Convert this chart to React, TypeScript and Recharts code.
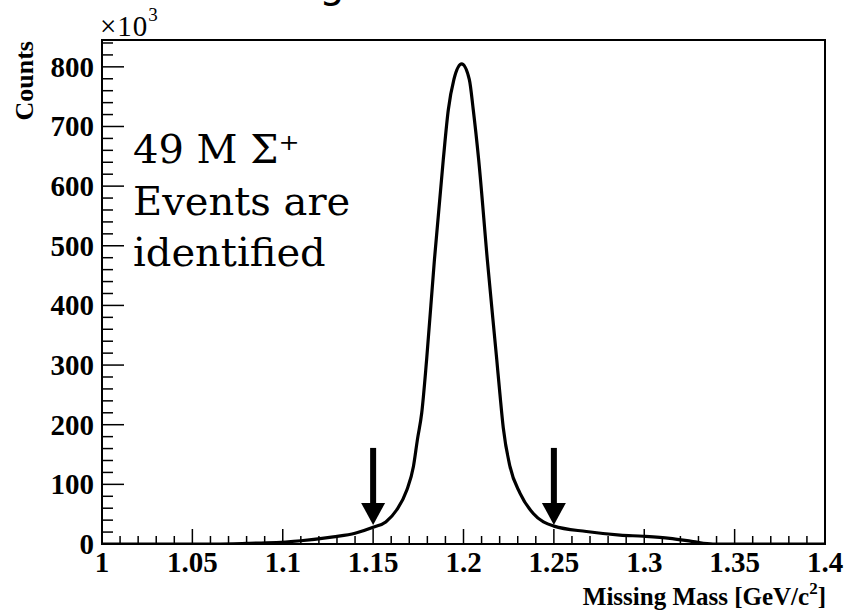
import React from 'react';
import {
  ComposedChart,
  Line,
  XAxis,
  YAxis,
  ReferenceArea,
  ReferenceDot
} from 'recharts';

// missing mass (GeV/c^2) and counts (x10^3)
const massValues = [
  1.0, 1.0625, 1.08, 1.091, 1.11, 1.128, 1.14, 1.15, 1.157, 1.163, 1.1686,
  1.1723, 1.1745, 1.1769, 1.1796, 1.1839, 1.1888, 1.1916, 1.1947, 1.199,
  1.2032, 1.2054, 1.2084, 1.2132, 1.2184, 1.2202, 1.222, 1.2257, 1.2313,
  1.2386, 1.25, 1.268, 1.2866, 1.2995, 1.3142, 1.327, 1.338, 1.4
];
const counts = [
  0, 0, 1, 2, 5.5, 12, 18, 28, 37, 57, 90,
  130, 175, 220, 309, 476, 644, 728, 779, 805,
  779, 728, 644, 476, 309, 250, 195, 130, 85,
  51, 30, 21, 15, 13, 9.5, 4, 0, 0
];

const xMajorTicks = [1, 1.05, 1.1, 1.15, 1.2, 1.25, 1.3, 1.35, 1.4];
const yMajorTicks = [0, 100, 200, 300, 400, 500, 600, 700, 800];
const cutPositions = [1.15, 1.25];
const cutArrowTip = 32;
const yMax = 845;

const chartData = massValues.map((m, i) => ({ mass: m, counts: counts[i] }));

// 4 minor ticks between majors on both axes
const xTicks: number[] = [];
for (let i = 0; i < xMajorTicks.length - 1; i++) {
  const step = (xMajorTicks[i + 1] - xMajorTicks[i]) / 5;
  for (let k = 0; k < 5; k++) xTicks.push(+(xMajorTicks[i] + k * step).toFixed(4));
}
xTicks.push(xMajorTicks[xMajorTicks.length - 1]);

const yTicks: number[] = [];
for (let v = 0; v <= 840; v += 20) yTicks.push(v);

const labelFont = '"Liberation Serif", "Times New Roman", serif';

const XTick = (props: any) => {
  const { x, y, payload } = props;
  const v = payload.value;
  const major = xMajorTicks.some((t) => Math.abs(t - v) < 1e-6);
  return (
    <g>
      <line x1={x} x2={x} y1={y} y2={y - (major ? 15 : 8)} stroke="#000" strokeWidth={1.5} />
      {major && (
        <text x={x} y={y + 28} textAnchor="middle" fontFamily={labelFont} fontWeight="bold" fontSize={29} fill="#000">
          {String(Math.round(v * 100) / 100)}
        </text>
      )}
    </g>
  );
};

const YTick = (props: any) => {
  const { x, y, payload } = props;
  const v = payload.value;
  const major = yMajorTicks.includes(v);
  return (
    <g>
      <line x1={x} x2={x + (major ? 22 : 11)} y1={y} y2={y} stroke="#000" strokeWidth={1.5} />
      {major && (
        <text x={x - 8} y={y + 10} textAnchor="end" fontFamily={labelFont} fontWeight="bold" fontSize={29} fill="#000">
          {v}
        </text>
      )}
    </g>
  );
};

const CutArrow = (props: any) => {
  const { cx, cy } = props;
  return (
    <g>
      <rect x={cx - 3} y={cy - 77} width={6} height={57} fill="#000" />
      <polygon points={`${cx - 12},${cy - 22} ${cx + 12},${cy - 22} ${cx},${cy}`} fill="#000" />
    </g>
  );
};

export default function App() {
  return (
    <div style={{ position: 'absolute', left: 0, top: 0, width: 844, height: 613, background: '#fff' }}>
      <ComposedChart
        width={844}
        height={613}
        data={chartData}
        margin={{ top: 40, right: 19, bottom: 0, left: 0 }}
      >
        <XAxis
          dataKey="mass"
          type="number"
          domain={[1, 1.4]}
          ticks={xTicks}
          interval={0}
          tickSize={0}
          tickMargin={0}
          tick={<XTick />}
          axisLine={{ stroke: '#000', strokeWidth: 2 }}
          height={69}
          allowDataOverflow
        />
        <YAxis
          type="number"
          domain={[0, yMax]}
          ticks={yTicks}
          interval={0}
          tickSize={0}
          tickMargin={0}
          tick={<YTick />}
          axisLine={{ stroke: '#000', strokeWidth: 2 }}
          width={102}
          allowDataOverflow
        />
        <ReferenceArea x1={1} x2={1.4} y1={0} y2={yMax} fill="none" stroke="#000" strokeWidth={2} />
        <Line
          type="monotone"
          dataKey="counts"
          stroke="#000"
          strokeWidth={3.2}
          dot={false}
          isAnimationActive={false}
        />
        {cutPositions.map((c) => (
          <ReferenceDot key={c} x={c} y={cutArrowTip} shape={<CutArrow />} />
        ))}
      </ComposedChart>
      <svg width={844} height={613} style={{ position: 'absolute', left: 0, top: 0, pointerEvents: 'none' }}>
        <text x={332} y={-3} textAnchor="middle" fontFamily='"DejaVu Sans", sans-serif' fontSize={40} fill="#000">g</text>
        <text x={100} y={36} fontFamily={labelFont} fontSize={29} letterSpacing={1} fill="#000">
          ×10<tspan dy={-15} fontSize={19}>3</tspan>
        </text>
        <text
          x={33}
          y={41}
          transform="rotate(-90 33 41)"
          textAnchor="end"
          fontFamily={labelFont}
          fontWeight="bold"
          fontSize={26}
          fill="#000"
        >
          Counts
        </text>
        <text x={826} y={605} textAnchor="end" fontFamily={labelFont} fontWeight="bold" fontSize={25} fill="#000">
          Missing Mass [GeV/c<tspan dy={-11} fontSize={17}>2</tspan><tspan dy={11}>]</tspan>
        </text>
        <g fontFamily='"DejaVu Serif", serif' fontSize={40} fill="#000">
          <text x={133} y={163}>49 M Σ⁺</text>
          <text x={133} y={215}>Events are</text>
          <text x={133} y={266}>identified</text>
        </g>
      </svg>
    </div>
  );
}
